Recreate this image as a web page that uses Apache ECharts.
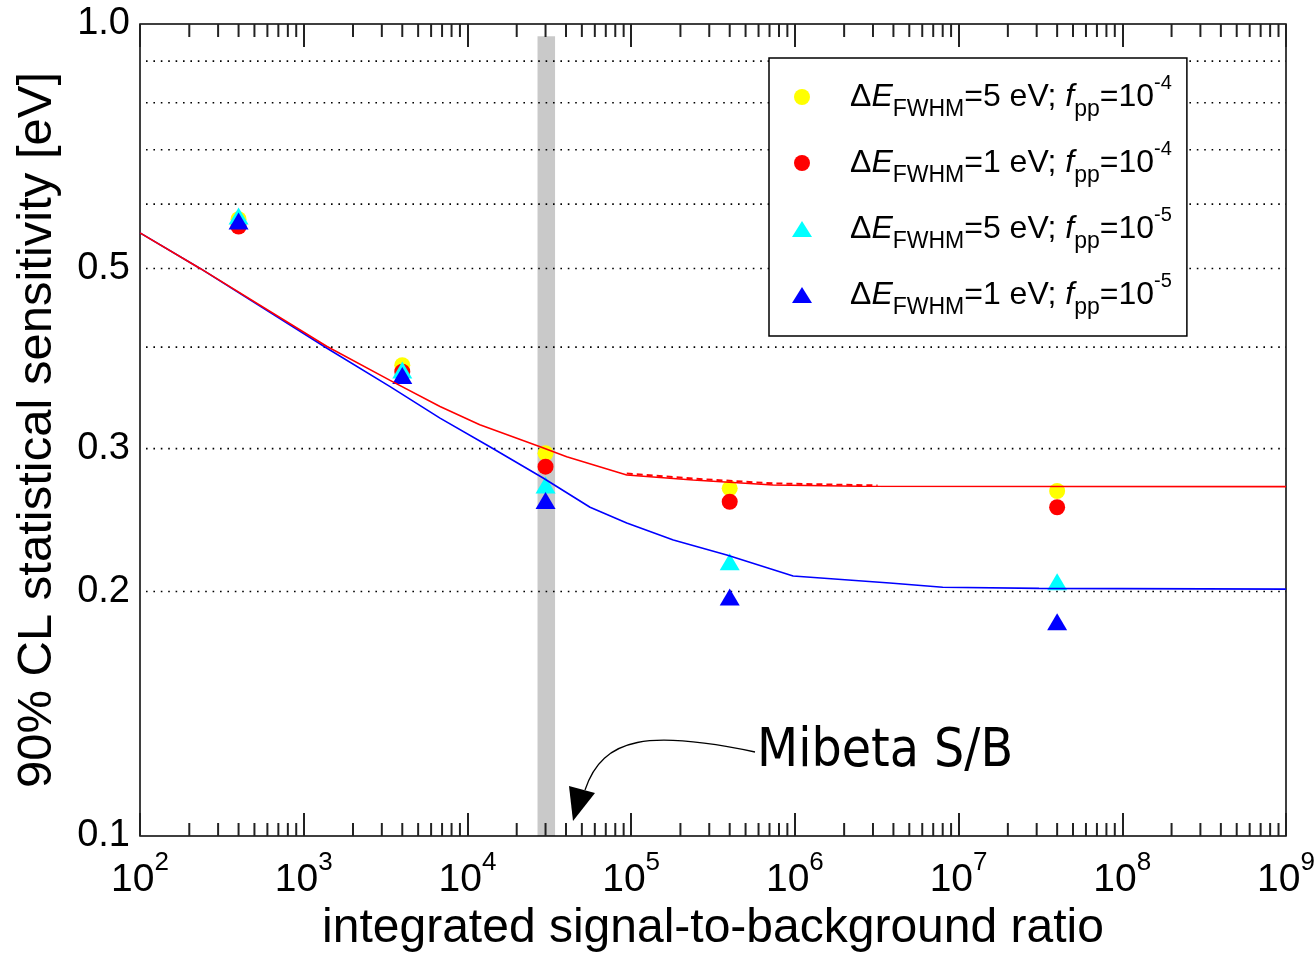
<!DOCTYPE html>
<html><head><meta charset="utf-8">
<script src="https://cdn.jsdelivr.net/npm/echarts@6/dist/echarts.min.js"></script>
<style>html,body{margin:0;padding:0;background:#fff}#c{width:1316px;height:953px}</style>
</head><body><div id="c"></div>
<script>
// ---- data ----
const sbRatio = [400, 4000, 30000, 400000, 40000000];
const yellow5eVfpp4 = [0.575, 0.380, 0.296, 0.268, 0.266];
const red1eVfpp4    = [0.563, 0.373, 0.285, 0.258, 0.254];
const cyan5eVfpp5   = [0.580, 0.375, 0.2705, 0.2177, 0.2056];
const blue1eVfpp5   = [0.572, 0.369, 0.259, 0.197, 0.1836];

const redCurveX = [100, 233, 1380, 3370, 6800, 11900, 27800, 40400, 94000, 239000, 736000, 2500000, 1e9];
const redCurveY = [0.553, 0.500, 0.401, 0.364, 0.338, 0.321, 0.3016, 0.2932, 0.2783, 0.2744, 0.2706, 0.2696, 0.2693];
const redDashX = [94000, 239000, 736000, 3200000];
const redDashY = [0.2795, 0.2755, 0.2718, 0.2702];
const blueCurveX = [100, 233, 1380, 3370, 6800, 13700, 29000, 56100, 94000, 181000, 384000, 976000, 3800000, 8000000, 31000000, 1e9];
const blueCurveY = [0.553, 0.500, 0.399, 0.3576, 0.3271, 0.3016, 0.276, 0.254, 0.2429, 0.2315, 0.2219, 0.209, 0.2049, 0.2025, 0.2018, 0.2014];

const mibetaBand = [26800, 34300];

const xMin = 100, xMax = 1e9, yMin = 0.1, yMax = 1.0;
const yTickValues = [1.0, 0.5, 0.3, 0.2, 0.1];
const yTickLabels = ['1.0', '0.5', '0.3', '0.2', '0.1'];
const yGridValues = [0.2, 0.3, 0.4, 0.5, 0.6, 0.7, 0.8, 0.9];
const decadeStarts = [100, 1000, 1e4, 1e5, 1e6, 1e7, 1e8];
const minorMultipliers = [2, 3, 4, 5, 6, 7, 8, 9];

const legendNames = ['Y5', 'R1', 'C5', 'B1'];
const legendEnergy = ['5', '1', '5', '1'];
const legendFppExp = ['-4', '-4', '-5', '-5'];

// ---- build ----
const FONT = 'Liberation Sans, Arial, Helvetica, sans-serif';
const zip = (xs, ys) => xs.map((x, i) => [x, ys[i]]);
const minorTickValues = [];
decadeStarts.forEach(d => minorMultipliers.forEach(m => minorTickValues.push(d * m)));

const legendText = {};
legendNames.forEach((n, i) => {
  legendText[n] = '{d|Δ}{i|E}{sub|FWHM}{t|=' + legendEnergy[i] + ' eV; }{i|f}{sub|pp}{t|=10}{sup|' + legendFppExp[i] + '}';
});

const chart = echarts.init(document.getElementById('c'), null, {renderer: 'canvas'});
const option = {
  backgroundColor: '#fff',
  animation: false,
  grid: {left: 140, right: 30, top: 24, bottom: 117, containLabel: false, outerBoundsMode: 'none',
         show: true, borderColor: '#000', borderWidth: 1.5, backgroundColor: 'transparent'},
  xAxis: [{
    type: 'log', logBase: 10, min: xMin, max: xMax,
    axisLine: {show: false},
    axisTick: {show: true, inside: true, length: 23, lineStyle: {color: '#222', width: 2}},
    splitLine: {show: false},
    axisLabel: {
      margin: 14, showMinLabel: true, showMaxLabel: true,
      formatter: v => '{b|10}{s|' + Math.round(Math.log10(v)) + '}',
      rich: {
        b: {fontSize: 39, lineHeight: 60, fontFamily: FONT, color: '#000'},
        s: {fontSize: 26, lineHeight: 14, verticalAlign: 'top', fontFamily: FONT, color: '#000'}
      }
    },
    name: 'integrated signal-to-background ratio', nameLocation: 'middle', nameGap: 67,
    nameTextStyle: {fontSize: 48, fontFamily: FONT, color: '#000'}
  }, {
    type: 'log', logBase: 10, min: xMin, max: xMax, position: 'top',
    axisLine: {show: false},
    axisTick: {show: true, inside: true, length: 23, lineStyle: {color: '#222', width: 2}},
    splitLine: {show: false}, axisLabel: {show: false}
  }],
  yAxis: {
    type: 'log', logBase: 10, min: yMin, max: yMax,
    axisLine: {show: false}, axisTick: {show: false}, axisLabel: {show: false}, splitLine: {show: false},
    name: '90% CL statistical sensitivity [eV]', nameLocation: 'middle', nameGap: 78,
    nameTextStyle: {fontSize: 49, fontFamily: FONT, color: '#000'}
  },
  legend: {
    orient: 'vertical', left: 769, top: 58,
    padding: [15, 15, 17, 23], itemGap: 18, itemWidth: 20, itemHeight: 16,
    borderColor: '#000', borderWidth: 1.5, backgroundColor: '#fff',
    selectedMode: false,
    data: [
      {name: 'Y5', icon: 'circle'}, {name: 'R1', icon: 'circle'},
      {name: 'C5', icon: 'triangle'}, {name: 'B1', icon: 'triangle'}
    ],
    formatter: n => legendText[n],
    textStyle: {
      color: '#000', fontFamily: FONT,
      rich: {
        d: {fontSize: 32, lineHeight: 48, padding: [0, 0, 0, 33], fontFamily: FONT, color: '#000'},
        i: {fontSize: 32, lineHeight: 48, fontStyle: 'italic', fontFamily: FONT, color: '#000'},
        t: {fontSize: 32, lineHeight: 48, fontFamily: FONT, color: '#000'},
        sub: {fontSize: 23, lineHeight: 22, verticalAlign: 'bottom', fontFamily: FONT, color: '#000'},
        sup: {fontSize: 20, lineHeight: 18, verticalAlign: 'top', fontFamily: FONT, color: '#000'}
      }
    }
  },
  graphic: [
    {type: 'text', x: 757, y: 752, z: 100,
     style: {text: 'Mibeta S/B', fontSize: 53, fontFamily: '"DejaVu Sans Condensed", "DejaVu Sans", sans-serif', fill: '#000',
             align: 'left', verticalAlign: 'middle', textAlign: 'left', textVerticalAlign: 'middle'}},
    {type: 'bezierCurve', z: 100,
     shape: {x1: 755, y1: 752, cpx1: 650, cpy1: 730, cpx2: 603, cpy2: 736, x2: 585, y2: 790},
     style: {stroke: '#000', lineWidth: 1.3, fill: null}},
    {type: 'polygon', z: 100, shape: {points: [[573, 821], [569, 786], [595, 793]]}, style: {fill: '#000'}}
  ],
  series: [
    {
      type: 'custom', name: 'grid', z: 1, silent: true,
      data: yGridValues.map(v => [xMin, v]),
      renderItem: (params, api) => {
        const v = api.value(1);
        const a = api.coord([xMin, v]), b = api.coord([xMax, v]);
        return {type: 'line', shape: {x1: a[0] + 6, y1: a[1], x2: b[0], y2: b[1]},
                style: {stroke: '#000', lineWidth: 1.6, lineDash: [1.6, 5.8]}};
      }
    },
    {
      type: 'custom', name: 'minorTicks', z: 6, silent: true,
      data: minorTickValues.map(v => [v, yMin]),
      renderItem: (params, api) => {
        const v = api.value(0);
        const b = api.coord([v, yMin]), t = api.coord([v, yMax]);
        return {type: 'group', children: [
          {type: 'line', shape: {x1: b[0], y1: b[1], x2: b[0], y2: b[1] - 13}, style: {stroke: '#222', lineWidth: 2}},
          {type: 'line', shape: {x1: t[0], y1: t[1], x2: t[0], y2: t[1] + 13}, style: {stroke: '#222', lineWidth: 2}}
        ]};
      }
    },
    {
      type: 'custom', name: 'yLabels', z: 6, silent: true, clip: false,
      data: yTickValues.map(v => [xMin, v]),
      renderItem: (params, api) => {
        const p = api.coord([xMin, api.value(1)]);
        return {type: 'text', x: p[0] - 10, y: p[1],
                style: {text: yTickLabels[params.dataIndex], fontSize: 38, fontFamily: FONT, fill: '#000',
                        align: 'right', verticalAlign: 'middle'}};
      }
    },
    {name: 'Y5', type: 'scatter', z: 2, symbol: 'circle', symbolSize: 16, data: zip(sbRatio, yellow5eVfpp4), itemStyle: {color: '#ffff00', opacity: 1}},
    {name: 'R1', type: 'scatter', z: 2, symbol: 'circle', symbolSize: 16, data: zip(sbRatio, red1eVfpp4), itemStyle: {color: '#ff0000', opacity: 1}},
    {name: 'C5', type: 'scatter', z: 2, symbol: 'triangle', symbolSize: [20, 17], data: zip(sbRatio, cyan5eVfpp5), itemStyle: {color: '#00ffff', opacity: 1}},
    {name: 'B1', type: 'scatter', z: 2, symbol: 'triangle', symbolSize: [20, 17], data: zip(sbRatio, blue1eVfpp5), itemStyle: {color: '#0000ff', opacity: 1}},
    {
      type: 'line', name: 'band', z: 3, silent: true, data: [[30000, 0.5]], showSymbol: false, symbol: 'none',
      lineStyle: {opacity: 0},
      markArea: {silent: true, itemStyle: {color: 'rgba(0,0,0,0.21)'},
                 data: [[{coord: [mibetaBand[0], yMin]}, {coord: [mibetaBand[1], 0.966]}]]}
    },
    {type: 'line', name: 'blueCurve', z: 4, data: zip(blueCurveX, blueCurveY), showSymbol: false, symbol: 'none',
     lineStyle: {color: '#0000ff', width: 1.6}},
    {type: 'line', name: 'redCurve', z: 4, data: zip(redCurveX, redCurveY), showSymbol: false, symbol: 'none',
     lineStyle: {color: '#ff0000', width: 1.6}},
    {type: 'line', name: 'redDash', z: 4, data: zip(redDashX, redDashY), showSymbol: false, symbol: 'none',
     lineStyle: {color: '#ff0000', width: 2, type: [6, 4]}}
  ]
};
chart.setOption(option);
</script>
</body></html>
